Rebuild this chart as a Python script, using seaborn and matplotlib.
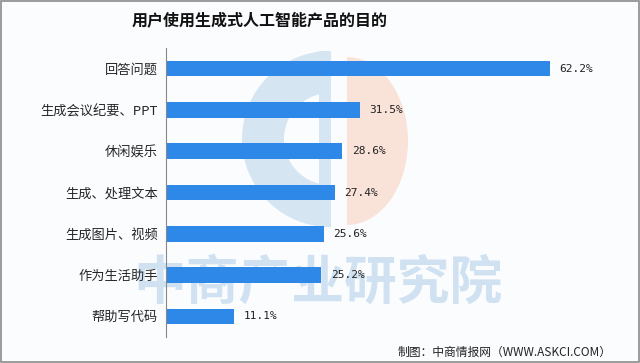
import matplotlib
matplotlib.use("Agg")
import matplotlib.pyplot as plt
from matplotlib.patches import Wedge, Ellipse, Rectangle
import seaborn as sns
import pandas as pd

# data
categories = ['回答问题', '生成会议纪要、PPT', '休闲娱乐', '生成、处理文本',
              '生成图片、视频', '作为生活助手', '帮助写代码']
shares = [62.2, 31.5, 28.6, 27.4, 25.6, 25.2, 11.1]
value_labels = ['62.2%', '31.5%', '28.6%', '27.4%', '25.6%', '25.2%', '11.1%']

df = pd.DataFrame({'purpose': categories, 'share': shares})

sns.set_style('white')
plt.rcParams['font.family'] = ['Noto Sans CJK SC', 'DejaVu Sans']

fig = plt.figure(figsize=(6.4, 3.63), dpi=100, facecolor='#fbfcfe')

# background layer in pixel coordinates: logo + watermark
bg = fig.add_axes([0, 0, 1, 1], zorder=0)
bg.set_xlim(0, 640)
bg.set_ylim(363, 0)
bg.axis('off')
orange = Ellipse((347, 141), 122, 168, color='#f9e3d8', lw=0)
bg.add_patch(orange)
orange.set_clip_path(Rectangle((347, 0), 200, 363, transform=bg.transData))
bg.add_patch(Wedge((330, 139), 88, 90, 270, width=42, color='#d5e5f2', lw=0))
bg.add_patch(Rectangle((319, 51), 12, 176, color='#d5e5f2', lw=0))
bg.text(318, 283, '中商产业研究院', fontsize=38, color='#d0e2f1',
        fontweight='bold', va='center', ha='center')

ax = fig.add_axes([166 / 640, 1 - 337 / 363, 454 / 640, 289 / 363], zorder=1)
ax.set_facecolor('none')

sns.barplot(data=df, y='purpose', x='share', orient='h', color='#2e88e8',
            saturation=1, width=0.38, linewidth=0, ax=ax)

for i, lab in enumerate(value_labels):
    ax.text(shares[i] + 1.5, i, lab, va='center', ha='left', fontsize=8,
            family='DejaVu Sans Mono', color='#222222')

ax.set_xlim(0, 73.6)
ax.set_ylim(6.5, -0.5)
ax.set_xlabel('')
ax.set_ylabel('')
ax.set_xticks([])
for s in ['top', 'right', 'bottom']:
    ax.spines[s].set_visible(False)
ax.spines['left'].set_color('#888888')
ax.spines['left'].set_linewidth(0.8)
ax.tick_params(axis='y', which='major', length=0, pad=6, labelsize=9.5)
ax.set_yticks([i - 0.5 for i in range(len(categories) + 1)], minor=True)
ax.tick_params(axis='y', which='minor', length=3, color='#888888', width=0.8)

fig.text(260 / 640, 1 - 20 / 363, '用户使用生成式人工智能产品的目的', fontsize=11.5,
         fontweight='bold', ha='center', va='center', color='#111111')
fig.text(612 / 640, 1 - 352 / 363, '制图：中商情报网（WWW.ASKCI.COM）', fontsize=8.5,
         ha='right', va='center', color='#222222')

# outer frame
fig.patches.append(plt.Rectangle((0.001, 0.002), 0.997, 0.995, transform=fig.transFigure,
                                 fill=False, edgecolor='#8a8a8a', linewidth=1.2))

fig.savefig('out.png', dpi=100, facecolor=fig.get_facecolor())
